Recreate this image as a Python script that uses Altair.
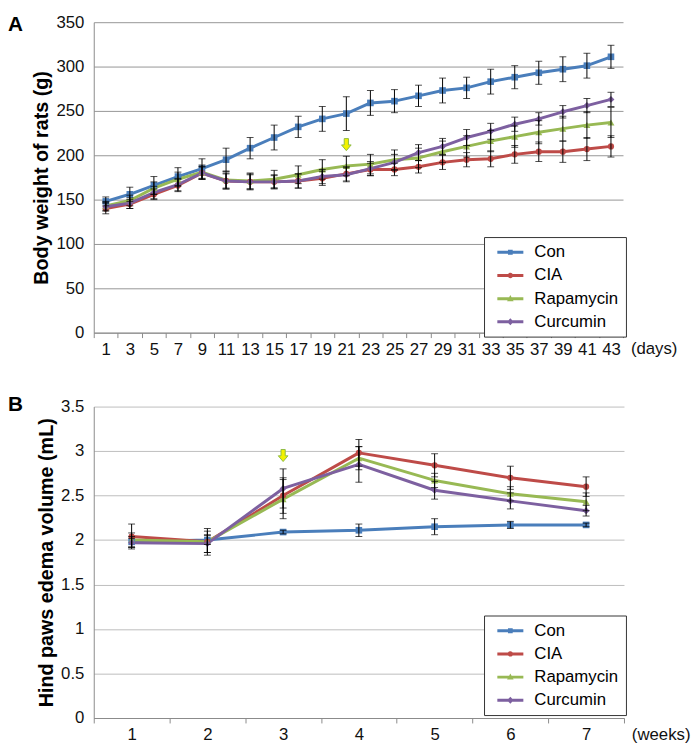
import altair as alt
import pandas as pd

FONT = "Liberation Sans"

groups = ["Con", "CIA", "Rapamycin", "Curcumin"]
colors = ["#4a7ebb", "#be4b48", "#98b954", "#7d60a0"]
marker_shapes = ["square", "circle", "triangle-up", "diamond"]
marker_sizes = [45, 40, 50, 50]

# ---- Panel A: body weight (g) by day ----
days = [1, 3, 5, 7, 9, 11, 13, 15, 17, 19, 21, 23, 25, 27, 29, 31, 33, 35, 37, 39, 41, 43]
con_w = [148, 156, 166, 176, 185, 195, 208, 220, 232, 241, 247, 259, 261, 267, 273, 276, 283, 288, 293, 297, 301, 311]
con_w_err = [5, 8, 10, 10, 11, 13, 12, 14, 12, 14, 19, 14, 13, 12, 14, 12, 14, 13, 13, 14, 14, 13]
cia_w = [140, 145, 156, 166, 180, 171, 170, 170, 171, 174, 179, 184, 184, 187, 192, 195, 196, 201, 204, 204, 207, 210]
cia_w_err = [6, 5, 6, 7, 7, 9, 9, 8, 8, 8, 8, 7, 7, 7, 8, 8, 9, 10, 11, 12, 13, 12]
rapa_w = [143, 149, 163, 173, 181, 172, 171, 173, 178, 184, 188, 190, 195, 197, 204, 210, 216, 221, 226, 230, 234, 237]
rapa_w_err = [5, 6, 7, 8, 8, 10, 9, 10, 10, 11, 11, 11, 11, 11, 12, 12, 12, 12, 13, 14, 15, 17]
curc_w = [142, 146, 158, 167, 180, 171, 170, 170, 171, 176, 178, 185, 192, 203, 210, 220, 227, 235, 241, 249, 256, 263]
curc_w_err = [5, 6, 7, 7, 7, 8, 8, 7, 8, 8, 8, 8, 9, 9, 9, 9, 9, 8, 7, 7, 8, 8]
weight_ticks = [0, 50, 100, 150, 200, 250, 300, 350]

# ---- Panel B: hind paw edema volume (mL) by week ----
weeks = [1, 2, 3, 4, 5, 6, 7]
con_v = [1.98, 2.00, 2.09, 2.11, 2.15, 2.17, 2.17]
con_v_err = [0.06, 0.05, 0.02, 0.07, 0.09, 0.04, 0.02]
cia_v = [2.04, 1.98, 2.50, 2.98, 2.84, 2.70, 2.60]
cia_v_err = [0.14, 0.15, 0.20, 0.15, 0.13, 0.13, 0.11]
rapa_v = [2.00, 1.98, 2.46, 2.92, 2.67, 2.52, 2.43]
rapa_v_err = [0.08, 0.12, 0.22, 0.13, 0.08, 0.08, 0.10]
curc_v = [1.97, 1.96, 2.58, 2.85, 2.56, 2.44, 2.33]
curc_v_err = [0.05, 0.10, 0.22, 0.20, 0.10, 0.09, 0.06]
volume_ticks = [0, 0.5, 1, 1.5, 2, 2.5, 3, 3.5]

# treatment start arrows
arrow_a = {"x": 21, "value": 212}
arrow_b = {"x": 3, "value": 2.95}

ARROW = "M-0.35,-1H0.35V0.05H0.8L0,1L-0.8,0.05H-0.35Z"
LINE = "M-1,-0.25H3.4V0.25H-1Z"
legend_paths = [
    LINE + "M0.8,-0.42H1.6V0.42H0.8Z",
    LINE + "M0.75,0A0.45,0.45 0 1,1 1.65,0A0.45,0.45 0 1,1 0.75,0Z",
    LINE + "M1.2,-0.6L1.75,0.42H0.65Z",
    LINE + "M1.2,-0.6L1.75,0L1.2,0.6L0.65,0Z",
]


def long_df(xs, series, errs):
    rows = []
    for g, vals, es in zip(groups, series, errs):
        for x, v, e in zip(xs, vals, es):
            rows.append({"x": x, "group": g, "value": v, "lo": v - e, "hi": v + e})
    return pd.DataFrame(rows)


def panel(df, xs, ydomain, yvalues, ytitle, width, height, grid_color,
          letter, letter_y, unit_text, arrow, title_pad, legend_y):
    xscale = alt.Scale(type="band", domain=xs, paddingInner=0, paddingOuter=0)
    xaxis = alt.Axis(title=None, tickBand="extent", ticks=True, tickSize=5,
                     tickColor="#8a8a8a", domainColor="#8a8a8a", labelAngle=0,
                     labelFontSize=17, labelFont=FONT, labelPadding=4,
                     labelColor="#111111", grid=False)
    x_ax = alt.X("x:O", scale=xscale, axis=xaxis)
    yscale = alt.Scale(domain=ydomain, nice=False, zero=True)
    yaxis = alt.Axis(values=yvalues, format="~r", title=ytitle, titleFontSize=20,
                     titleFontWeight="bold", titleFont=FONT, titleColor="black",
                     titlePadding=title_pad, labelFontSize=17, labelFont=FONT,
                     labelPadding=10, labelColor="#111111", ticks=False, tickSize=0,
                     domainColor="#8a8a8a", gridColor=grid_color, grid=True)

    def Y(field):
        return alt.Y(f"{field}:Q", scale=yscale, axis=yaxis)

    cscale = alt.Scale(domain=groups, range=colors)
    leg = alt.Legend(title=None, orient="none", legendX=396, legendY=legend_y,
                     direction="vertical", fillColor="white", strokeColor="#333333",
                     padding=7, labelFont=FONT, labelFontSize=17, labelColor="black",
                     symbolSize=144, symbolStrokeWidth=0, labelOffset=23,
                     rowPadding=5.5, symbolOffset=4)
    color = alt.Color("group:N", scale=cscale, legend=leg)

    base = alt.Chart(df)
    lines = base.mark_line(strokeWidth=3, strokeJoin="round").encode(
        x=x_ax, y=Y("value"), color=color)
    layers = [lines]
    for g, shp, sz in zip(groups, marker_shapes, marker_sizes):
        layers.append(
            base.transform_filter(alt.datum.group == g)
            .mark_point(shape=shp, filled=True, size=sz, opacity=1)
            .encode(x=x_ax, y=Y("value"), color=color)
        )
    rules = base.mark_rule(color="black", strokeWidth=1).encode(
        x=x_ax, y=Y("lo"), y2="hi:Q")
    tick_lo = base.mark_tick(color="black", thickness=1, size=7).encode(
        x=x_ax, y=Y("lo"))
    tick_hi = base.mark_tick(color="black", thickness=1, size=7).encode(
        x=x_ax, y=Y("hi"))
    layers += [rules, tick_lo, tick_hi]

    legend_layer = base.transform_filter("false").mark_point(filled=True, opacity=1).encode(
        x=x_ax, y=Y("value"),
        color=color,
        shape=alt.Shape("group:N", scale=alt.Scale(domain=groups, range=legend_paths), legend=leg),
    )
    layers.append(legend_layer)

    arrow_df = pd.DataFrame([arrow])
    arrow_layer = alt.Chart(arrow_df).mark_point(
        shape=ARROW, filled=True, fill="#f2f200", stroke="#8fbc45",
        strokeWidth=1, size=150, opacity=1).encode(x=x_ax, y=Y("value"))
    layers.append(arrow_layer)

    letter_layer = alt.Chart(pd.DataFrame({"t": [letter]})).mark_text(
        align="left", baseline="top", fontSize=21, fontWeight="bold", font=FONT,
        color="black").encode(text="t:N", x=alt.value(-87), y=alt.value(letter_y))
    unit_layer = alt.Chart(pd.DataFrame({"t": [unit_text]})).mark_text(
        align="left", baseline="top", fontSize=17, font=FONT, color="#111111").encode(
        text="t:N", x=alt.value(width + 8), y=alt.value(height + 9))
    layers += [letter_layer, unit_layer]

    return alt.layer(*layers).properties(width=width, height=height)


dfA = long_df(days, [con_w, cia_w, rapa_w, curc_w], [con_w_err, cia_w_err, rapa_w_err, curc_w_err])
dfB = long_df(weeks, [con_v, cia_v, rapa_v, curc_v], [con_v_err, cia_v_err, rapa_v_err, curc_v_err])

chartA = panel(dfA, days, [0, 350], weight_ticks, "Body weight of rats (g)", 537, 315,
               "#959595", "A", -8, "(days)", arrow_a, 5, 218)
chartB = panel(dfB, weeks, [0, 3.5], volume_ticks, "Hind paws edema volume (mL)", 538, 316,
               "#bdbdbd", "B", -13, "(weeks)", arrow_b, 4, 212)

chart = alt.vconcat(chartA, chartB, spacing=37).resolve_scale(
    color="independent", shape="independent", x="independent", y="independent"
).properties(padding=0, background="white").configure_view(stroke=None)

chart.save("out.html", embed_options={"renderer": "svg", "actions": False})
